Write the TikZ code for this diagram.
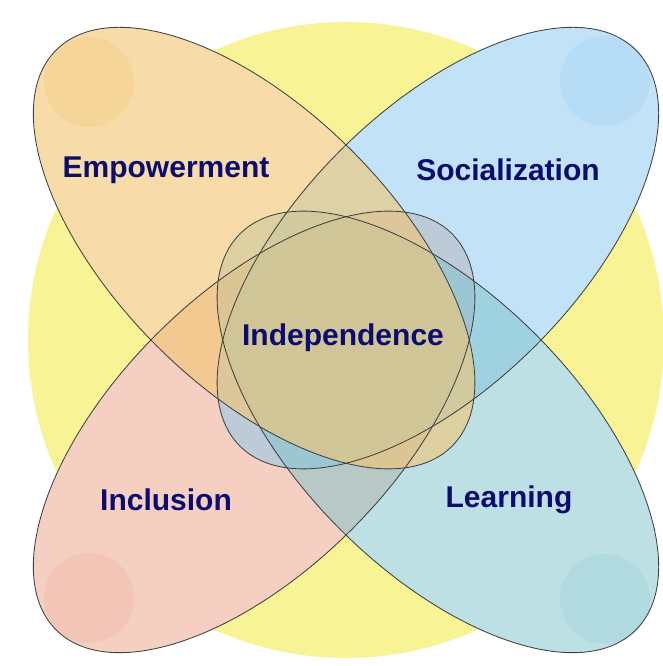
\documentclass[tikz,border=0pt]{standalone}
\usepackage{fontspec}
\setmainfont{Liberation Sans}
\definecolor{orangeB}{RGB}{243,197,113}
\definecolor{blueB}{RGB}{135,201,241}
\definecolor{pinkB}{RGB}{235,161,135}
\definecolor{tealB}{RGB}{125,195,205}
\definecolor{yellowBg}{RGB}{248,244,150}
\definecolor{navy}{RGB}{12,12,110}
\tikzset{
  petalfill/.style={fill=#1, fill opacity=0.5, draw=none},
  petalline/.style={draw=black!75, line width=0.85pt},
  dotfill/.style={fill=#1, fill opacity=0.2, draw=none},
  lbl/.style={text=navy, font=\fontsize{30}{36}\selectfont\bfseries, inner sep=0pt},
}
\begin{document}
\begin{tikzpicture}[x=1pt,y=1pt]
\useasboundingbox (0,0) rectangle (663,666);
\fill[white] (0,0) rectangle (663,666);
% background circle
\fill[yellowBg] (346,326) circle [radius=318];
% centres of the four petals
\coordinate (cTL) at (254.1,417.9);
\coordinate (cTR) at (437.9,417.9);
\coordinate (cBL) at (254.1,234.1);
\coordinate (cBR) at (437.9,234.1);
% white underlay
\foreach \c/\r in {cTL/135,cTR/45,cBL/45,cBR/135}{
  \fill[white, rotate around={\r:(\c)}] (\c) ellipse [x radius=280, y radius=138];
}
% coloured fills (order: pink, blue, teal, orange)
\fill[petalfill=pinkB, rotate around={45:(cBL)}] (cBL) ellipse [x radius=280, y radius=138];
\fill[petalfill=blueB, rotate around={45:(cTR)}] (cTR) ellipse [x radius=280, y radius=138];
\fill[petalfill=tealB, rotate around={135:(cBR)}] (cBR) ellipse [x radius=280, y radius=138];
\fill[petalfill=orangeB, fill opacity=0.6, rotate around={135:(cTL)}] (cTL) ellipse [x radius=280, y radius=138];
% highlight dots
\fill[dotfill=orangeB, fill opacity=0.3] (89,584) circle [radius=45];
\fill[dotfill=blueB] (605,585) circle [radius=45];
\fill[dotfill=pinkB] (89,68) circle [radius=45];
\fill[dotfill=tealB] (605,67) circle [radius=45];
% outlines
\draw[petalline, rotate around={45:(cBL)}] (cBL) ellipse [x radius=280, y radius=138];
\draw[petalline, rotate around={45:(cTR)}] (cTR) ellipse [x radius=280, y radius=138];
\draw[petalline, rotate around={135:(cBR)}] (cBR) ellipse [x radius=280, y radius=138];
\draw[petalline, rotate around={135:(cTL)}] (cTL) ellipse [x radius=280, y radius=138];
% labels
\node[lbl] (emp) at (166,496) {Empowerment};
\node[lbl] (soc) at (508,496) {Socialization};
\node[lbl] (ind) at (343,328) {Independence};
\node[lbl] (inc) at (166,166) {Inclusion};
\node[lbl] (lea) at (509,166) {Learning};
\end{tikzpicture}
\end{document}
